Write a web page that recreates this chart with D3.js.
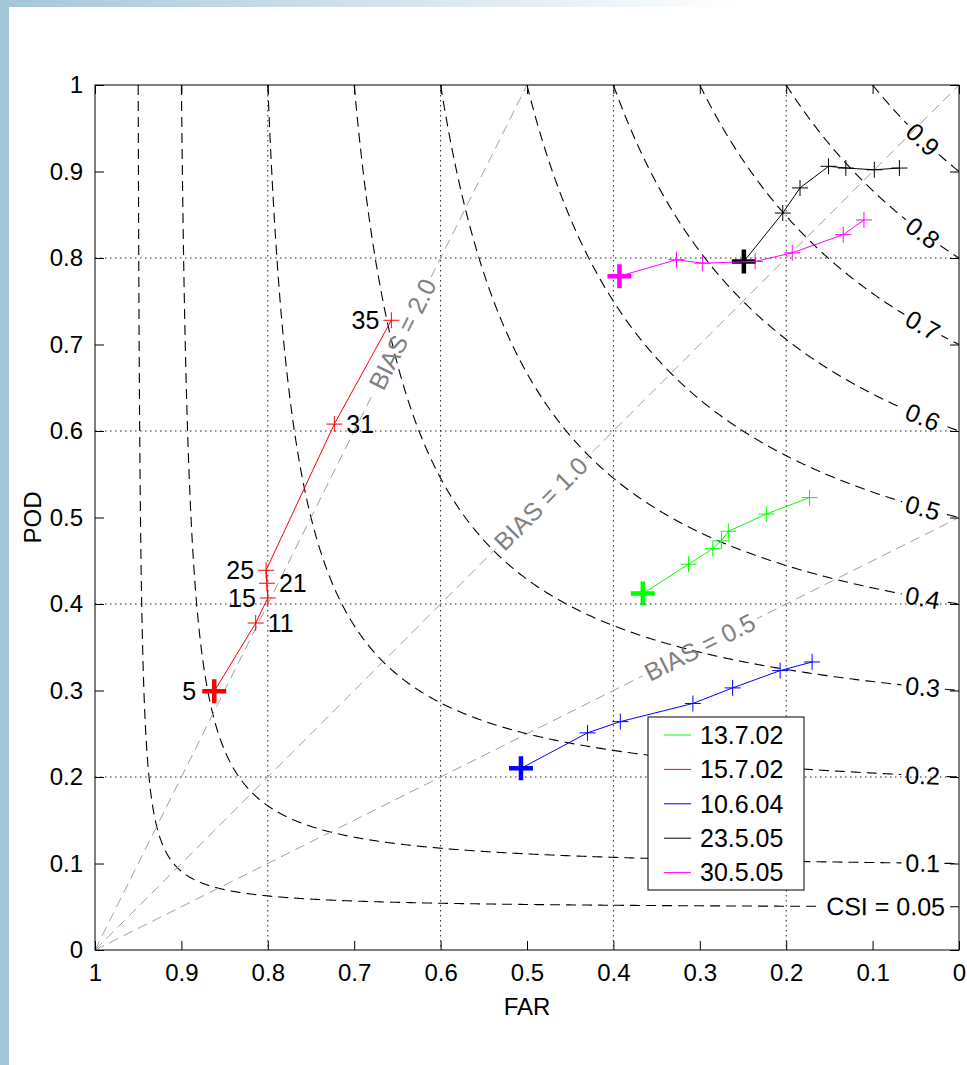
<!DOCTYPE html>
<html>
<head>
<meta charset="utf-8">
<script src="https://cdn.jsdelivr.net/npm/d3@7"></script>
<style>
    body { margin: 0; background: #fff; }
    svg text { font-family: "Liberation Sans", Arial, sans-serif; }
</style>
</head>
<body>
<svg id="chart" width="967" height="1065"></svg>
<script>
// series (FAR, POD); first point is the start (big marker)
const seriesNames = ["13.7.02", "15.7.02", "10.6.04", "23.5.05", "30.5.05"];
const seriesColors = ["#00ff00", "#ff0000", "#0000ff", "#000000", "#ff00ff"];
const far1307 = [0.366, 0.313, 0.285, 0.275, 0.267, 0.223, 0.173];
const pod1307 = [0.412, 0.446, 0.464, 0.473, 0.484, 0.504, 0.523];
const far1507 = [0.862, 0.814, 0.800, 0.801, 0.802, 0.723, 0.657];
const pod1507 = [0.299, 0.378, 0.407, 0.424, 0.439, 0.608, 0.728];
const lead1507 = ["5", "11", "15", "21", "25", "31", "35"];
const far1006 = [0.507, 0.430, 0.392, 0.308, 0.262, 0.207, 0.170];
const pod1006 = [0.210, 0.251, 0.264, 0.285, 0.303, 0.323, 0.333];
const far2305 = [0.249, 0.204, 0.184, 0.151, 0.131, 0.098, 0.069];
const pod2305 = [0.796, 0.852, 0.881, 0.906, 0.904, 0.902, 0.904];
const far3005 = [0.393, 0.327, 0.297, 0.236, 0.193, 0.134, 0.110];
const pod3005 = [0.779, 0.798, 0.794, 0.796, 0.806, 0.827, 0.844];

const csiLevels = [0.05, 0.1, 0.2, 0.3, 0.4, 0.5, 0.6, 0.7, 0.8, 0.9];
const biasLevels = [0.5, 1.0, 2.0];
const axisTicks = [0, 0.1, 0.2, 0.3, 0.4, 0.5, 0.6, 0.7, 0.8, 0.9, 1];
const gridTicks = [0.2, 0.4, 0.6, 0.8];

const seriesFar = [far1307, far1507, far1006, far2305, far3005];
const seriesPod = [pod1307, pod1507, pod1006, pod2305, pod3005];

const svg = d3.select("#chart");
const pLeft = 95, pRight = 959, pTop = 85, pBottom = 950;
const fs = 24, fsBig = 25;

let x = d3.scaleLinear().domain([1, 0]).range([pLeft, pRight]);
let y = d3.scaleLinear().domain([0, 1]).range([pBottom, pTop]);

// slide background strips
let defs = svg.append("defs");
let grad = defs.append("linearGradient").attr("id", "topgrad");
grad.append("stop").attr("offset", "0%").attr("stop-color", "#a4c6d9");
grad.append("stop").attr("offset", "77%").attr("stop-color", "#ffffff");
svg.append("rect").attr("x", 0).attr("y", 0).attr("width", 967).attr("height", 7).attr("fill", "url(#topgrad)");
svg.append("rect").attr("x", 0).attr("y", 0).attr("width", 9).attr("height", 1065).attr("fill", "#a4c6d9");

defs.append("clipPath").attr("id", "plotclip")
    .append("rect").attr("x", pLeft).attr("y", pTop).attr("width", pRight - pLeft).attr("height", pBottom - pTop);

// dotted grid
let grid = svg.append("g").attr("stroke", "#222").attr("stroke-width", 1).attr("stroke-dasharray", "1.5,3.5");
grid.selectAll(".gx").data(gridTicks).enter().append("line")
    .attr("x1", d => x(d)).attr("x2", d => x(d)).attr("y1", pTop).attr("y2", pBottom);
grid.selectAll(".gy").data(gridTicks).enter().append("line")
    .attr("y1", d => y(d)).attr("y2", d => y(d)).attr("x1", pLeft).attr("x2", pRight);

// CSI isolines: POD = 1 / (1/CSI + 1 - 1/SR), SR = 1 - FAR
const csiPod = (c, sr) => 1 / (1 / c + 1 - 1 / sr);
let csiMask = defs.append("mask").attr("id", "csimask").attr("maskUnits", "userSpaceOnUse")
    .attr("x", 0).attr("y", 0).attr("width", 967).attr("height", 1065);
csiMask.append("rect").attr("width", 967).attr("height", 1065).attr("fill", "#fff");

let csiG = svg.append("g").attr("clip-path", "url(#plotclip)");
let csiLines = csiG.append("g").attr("mask", "url(#csimask)");
let line = d3.line().x(d => x(d[0])).y(d => y(d[1]));

csiLevels.forEach(c => {
    let pts = d3.range(0, 1.0001, 1 / 800).map(t => {
        let sr = c + (1 - c) * Math.pow(t, 3);
        return [1 - sr, Math.min(1, csiPod(c, sr))];
    });
    csiLines.append("path").attr("d", line(pts))
        .attr("fill", "none").attr("stroke", "#000").attr("stroke-width", 1.1)
        .attr("stroke-dasharray", "10,6");

    let lf = c === 0.05 ? 0.085 : 0.042;
    let sr = 1 - lf;
    let px = x(lf), py = y(csiPod(c, sr));
    let ax = x(lf - 0.004) - x(lf + 0.004);
    let ay = y(csiPod(c, sr + 0.004)) - y(csiPod(c, sr - 0.004));
    let ang = Math.atan2(ay, ax) * 180 / Math.PI;
    let txt = svg.append("text")
        .attr("transform", `translate(${px},${py}) rotate(${ang})`)
        .attr("text-anchor", "middle").attr("dy", "0.35em")
        .attr("font-size", fsBig).attr("fill", "#000")
        .text(c === 0.05 ? "CSI = 0.05" : String(c));
    let w = txt.node().getComputedTextLength() + 8;
    csiMask.append("rect")
        .attr("x", -w / 2).attr("y", -11).attr("width", w).attr("height", 22)
        .attr("transform", `translate(${px},${py}) rotate(${ang})`).attr("fill", "#000");
});

// BIAS lines: POD = BIAS * SR
const biasLabelSr = [0.70, 0.516, 0.356];
let biasMask = defs.append("mask").attr("id", "biasmask").attr("maskUnits", "userSpaceOnUse")
    .attr("x", 0).attr("y", 0).attr("width", 967).attr("height", 1065);
biasMask.append("rect").attr("width", 967).attr("height", 1065).attr("fill", "#fff");
let biasLines = svg.append("g").attr("mask", "url(#biasmask)");

biasLevels.forEach((b, i) => {
    let end = b >= 1 ? [1 - 1 / b, 1] : [0, b];
    biasLines.append("path").attr("d", line([[1, 0], end]))
        .attr("fill", "none").attr("stroke", "#a0a0a0").attr("stroke-width", 1)
        .attr("stroke-dasharray", "10,6");
    let sr = biasLabelSr[i];
    let px = x(1 - sr), py = y(b * sr);
    let ang = Math.atan2(y(b) - y(0), x(0) - x(1)) * 180 / Math.PI;
    let txt = svg.append("text")
        .attr("transform", `translate(${px},${py}) rotate(${ang})`)
        .attr("text-anchor", "middle").attr("dy", "0.35em")
        .attr("font-size", fsBig).attr("fill", "#808080")
        .text("BIAS = " + b.toFixed(1));
    let w = txt.node().getComputedTextLength() + 8;
    biasMask.append("rect")
        .attr("x", -w / 2).attr("y", -11).attr("width", w).attr("height", 22)
        .attr("transform", `translate(${px},${py}) rotate(${ang})`).attr("fill", "#000");
});

// axes, MATLAB style: ticks inward on all four sides
const fmt = d => String(+d.toFixed(1));
function styleAxis(g) {
    g.select(".domain").remove();
    g.attr("font-size", fs).attr("font-family", "Liberation Sans, Arial, sans-serif");
    g.selectAll(".tick line").attr("stroke", "#000");
    g.selectAll(".tick text").attr("fill", "#000");
}
svg.append("g").attr("transform", `translate(0,${pBottom})`)
    .call(d3.axisBottom(x).tickValues(axisTicks).tickSize(-9).tickPadding(14).tickFormat(fmt)).call(styleAxis);
svg.append("g").attr("transform", `translate(${pLeft},0)`)
    .call(d3.axisLeft(y).tickValues(axisTicks).tickSize(-9).tickPadding(12).tickFormat(fmt)).call(styleAxis);
svg.append("g").attr("transform", `translate(0,${pTop})`)
    .call(d3.axisTop(x).tickValues(axisTicks).tickSize(-9).tickFormat("")).call(styleAxis);
svg.append("g").attr("transform", `translate(${pRight},0)`)
    .call(d3.axisRight(y).tickValues(axisTicks).tickSize(-9).tickFormat("")).call(styleAxis);

svg.append("rect").attr("x", pLeft).attr("y", pTop).attr("width", pRight - pLeft).attr("height", pBottom - pTop)
    .attr("fill", "none").attr("stroke", "#000").attr("stroke-width", 1);

svg.append("text").attr("x", (pLeft + pRight) / 2).attr("y", 1015).attr("text-anchor", "middle")
    .attr("font-size", fs).text("FAR");
svg.append("text").attr("transform", `translate(41,${(pTop + pBottom) / 2}) rotate(-90)`)
    .attr("text-anchor", "middle").attr("font-size", fs).text("POD");

// series
seriesNames.forEach((name, s) => {
    let pts = seriesFar[s].map((f, i) => [f, seriesPod[s][i]]);
    let g = svg.append("g");
    g.append("path").attr("d", line(pts)).attr("fill", "none")
        .attr("stroke", seriesColors[s]).attr("stroke-width", 1);
    g.selectAll(".mk").data(pts).enter().append("path")
        .attr("transform", d => `translate(${x(d[0])},${y(d[1])})`)
        .attr("d", (d, i) => i === 0 ? "M-12,0H12M0,-12V12" : "M-8,0H8M0,-8V8")
        .attr("stroke", seriesColors[s])
        .attr("stroke-width", (d, i) => i === 0 ? 4.5 : 1)
        .attr("fill", "none");
});

// lead-time labels on the 15.7.02 curve
svg.selectAll(".lead").data(lead1507).enter().append("text")
    .attr("x", (d, i) => x(far1507[i]) + (i % 2 === 0 ? -(i === 0 ? 18 : 12) : 12))
    .attr("y", (d, i) => y(pod1507[i]))
    .attr("dy", "0.35em")
    .attr("text-anchor", (d, i) => i % 2 === 0 ? "end" : "start")
    .attr("font-size", fsBig).attr("fill", "#000")
    .text(d => d);

// legend
let lg = svg.append("g");
lg.append("rect").attr("x", 648).attr("y", 717).attr("width", 156).attr("height", 173)
    .attr("fill", "#fff").attr("stroke", "#000").attr("stroke-width", 1);
seriesNames.forEach((name, i) => {
    let ry = 735 + i * 34.4;
    lg.append("line").attr("x1", 664).attr("x2", 691).attr("y1", ry).attr("y2", ry)
        .attr("stroke", seriesColors[i]).attr("stroke-width", 1);
    lg.append("text").attr("x", 700).attr("y", ry).attr("dy", "0.35em")
        .attr("font-size", fsBig).text(name);
});
</script>
</body>
</html>
